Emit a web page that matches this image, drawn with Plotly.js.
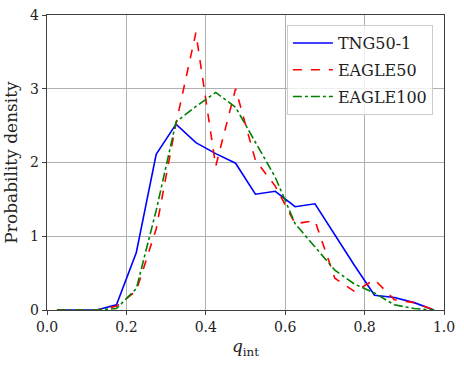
<!DOCTYPE html>
<html>
<head>
<meta charset="utf-8">
<script src="https://cdn.plot.ly/plotly-3.0.1.min.js"></script>
<style>html,body{margin:0;padding:0;background:#fff;}#chart{width:464px;height:366px;}</style>
</head>
<body>
<div id="chart"></div>
<script>
const qint = [0.025,0.075,0.125,0.175,0.225,0.275,0.325,0.375,0.425,0.475,0.525,0.575,0.625,0.675,0.725,0.775,0.825,0.875,0.925,0.975];
const tng50 = [0,0,0,0.07,0.78,2.11,2.52,2.27,2.12,1.99,1.57,1.61,1.40,1.44,1.02,0.60,0.20,0.17,0.10,0];
const eagle50 = [0,0,0,0.05,0.26,1.10,2.53,3.76,1.95,3.00,2.03,1.68,1.17,1.21,0.43,0.25,0.41,0.14,0.10,0];
const eagle100 = [0,0,0,0.02,0.29,1.35,2.55,2.76,2.95,2.75,2.27,1.80,1.17,0.86,0.54,0.35,0.23,0.07,0.02,0];
const seriesNames = ["TNG50-1","EAGLE50","EAGLE100"];
const xTicks = [0,0.2,0.4,0.6,0.8,1.0];
const yTicks = [0,1,2,3,4];

const font = "DejaVu Serif";
const traces = [
  {x: qint, y: tng50, name: seriesNames[0], legendgroup: "a", mode: "lines", line: {color: "#0000ff", width: 1.6}},
  {x: qint, y: eagle50, name: seriesNames[1], legendgroup: "b", mode: "lines", line: {color: "#ff0000", width: 1.6, dash: "dash"}},
  {x: qint, y: eagle100, name: seriesNames[2], legendgroup: "c", mode: "lines", line: {color: "#008000", width: 1.6, dash: "dashdot"}}
];
const axisCommon = {
  showgrid: true, gridcolor: "#b0b0b0", gridwidth: 1,
  showline: true, linecolor: "#404040", linewidth: 1.2, mirror: true,
  ticks: "outside", ticklen: 4, tickcolor: "#404040", tickwidth: 1,
  zeroline: false,
  tickfont: {family: font, size: 14, color: "#222"}
};
const layout = {
  width: 464, height: 366,
  margin: {l: 47, r: 20, t: 15, b: 56},
  paper_bgcolor: "#fff", plot_bgcolor: "#fff",
  font: {family: font},
  showlegend: true,
  legend: {
    x: 0.972, y: 0.966, xanchor: "right", yanchor: "top",
    bgcolor: "rgba(255,255,255,0.8)", bordercolor: "#cccccc", borderwidth: 1,
    font: {family: font, size: 16, color: "#222"},
    itemwidth: 40,
    tracegroupgap: 3
  },
  xaxis: Object.assign({}, axisCommon, {
    range: [0, 1], tickvals: xTicks, tickformat: ".1f",
    title: {text: "<i>q</i><sub>int</sub>", font: {family: font, size: 17, color: "#222"}, standoff: 6}
  }),
  yaxis: Object.assign({}, axisCommon, {
    range: [0, 4], tickvals: yTicks,
    title: {text: "Probability density", font: {family: font, size: 17, color: "#222"}, standoff: 8}
  })
};
Plotly.newPlot("chart", traces, layout, {displayModeBar: false, staticPlot: true});
</script>
</body>
</html>
